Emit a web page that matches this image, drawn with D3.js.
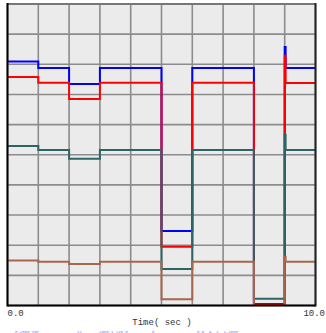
<!DOCTYPE html>
<html>
<head>
<meta charset="utf-8">
<script src="https://cdn.jsdelivr.net/npm/d3@7"></script>
<style>
  html, body { margin: 0; padding: 0; background: #ffffff; }
  svg { display: block; }
</style>
</head>
<body>
<div id="chart"></div>
<script>
// Sample times (sec) and the four traced channels
const times = [0, 1, 2, 3, 5, 6, 8, 9, 9.03, 10];
const blueVals  = [8.09, 7.88, 7.35, 7.88, 2.47, 7.88, 0.05, 8.57, 7.88, 7.88];
const redVals   = [7.58, 7.39, 6.85, 7.39, 1.95, 7.39, 0.03, 8.28, 7.38, 7.38];
const tealVals  = [5.29, 5.16, 4.87, 5.16, 1.21, 5.16, 0.22, 5.66, 5.16, 5.16];
const brownVals = [1.49, 1.45, 1.38, 1.45, 0.21, 1.45, -0.10, 1.62, 1.45, 1.45];

const xDomain = [0, 10];
const yDomain = [0, 10];
const xLabels = ["0.0", "10.0"];
const axisTitle = "Time( sec )";
const footer = [
  { text: "0.2000 V5e", x: 15 },
  { text: "11", x: 77 },
  { text: "2080-1 115.0", x: 99 },
  { text: "0", x: 152 },
  { text: "0.0  A  1  1.2000", x: 197 }
];

const W = 326, H = 333;
const plotL = 7.5, plotR = 315.5, plotT = 4, plotB = 305.5;

const svg = d3.select("#chart").append("svg")
  .attr("width", W).attr("height", H);

const x = d3.scaleLinear().domain(xDomain).range([plotL, plotR]);
const y = d3.scaleLinear().domain(yDomain).range([plotB, plotT]);

// plot background
svg.append("rect")
  .attr("x", plotL).attr("y", plotT)
  .attr("width", plotR - plotL).attr("height", plotB - plotT)
  .attr("fill", "#ebebeb");

// grid
const grid = svg.append("g").attr("stroke", "#8c8c8c").attr("stroke-width", 1.6);
grid.selectAll("line.v").data(x.ticks(10)).join("line")
  .attr("class", "v")
  .attr("x1", d => x(d)).attr("x2", d => x(d))
  .attr("y1", plotT).attr("y2", plotB);
grid.selectAll("line.h").data(y.ticks(10)).join("line")
  .attr("class", "h")
  .attr("x1", plotL).attr("x2", plotR)
  .attr("y1", d => y(d)).attr("y2", d => y(d));

// clip traces to the plot frame
svg.append("clipPath").attr("id", "plotClip")
  .append("rect")
  .attr("x", plotL).attr("y", plotT)
  .attr("width", plotR - plotL).attr("height", plotB - plotT);

const line = d3.line()
  .x(d => x(d[0]))
  .y(d => y(d[1]))
  .curve(d3.curveStepAfter);

const series = [
  { vals: blueVals, color: "#0000ff" },
  { vals: redVals, color: "#ff0000" },
  { vals: tealVals, color: "#2e6466" },
  { vals: brownVals, color: "#a8664e" }
];

const traces = svg.append("g").attr("clip-path", "url(#plotClip)");
series.forEach(s => {
  traces.append("path")
    .datum(times.map((t, i) => [t, s.vals[i]]))
    .attr("fill", "none")
    .attr("stroke", s.color)
    .attr("stroke-width", 2)
    .attr("d", line);
});

// frame
svg.append("line").attr("x1", plotL).attr("x2", plotR).attr("y1", plotT).attr("y2", plotT)
  .attr("stroke", "#777").attr("stroke-width", 2);
svg.append("line").attr("x1", plotL).attr("x2", plotL).attr("y1", plotT - 1).attr("y2", plotB + 1)
  .attr("stroke", "#000").attr("stroke-width", 2);
svg.append("line").attr("x1", plotR).attr("x2", plotR).attr("y1", plotT - 1).attr("y2", plotB + 1)
  .attr("stroke", "#222").attr("stroke-width", 2);
svg.append("line").attr("x1", plotL).attr("x2", plotR).attr("y1", plotB).attr("y2", plotB)
  .attr("stroke", "#000").attr("stroke-width", 2);

// axis labels
const mono = "'Liberation Mono', 'DejaVu Sans Mono', monospace";
svg.append("text").attr("x", x(xDomain[0])).attr("y", 316)
  .attr("font-family", mono).attr("font-size", 9).attr("fill", "#333")
  .text(xLabels[0]);
svg.append("text").attr("x", 325).attr("y", 316).attr("text-anchor", "end")
  .attr("font-family", mono).attr("font-size", 9).attr("fill", "#333")
  .text(xLabels[1]);
svg.append("text").attr("x", 162).attr("y", 325).attr("text-anchor", "middle")
  .attr("font-family", mono).attr("font-size", 9).attr("fill", "#333")
  .text(axisTitle);

// channel description line
svg.selectAll("text.foot").data(footer).join("text")
  .attr("class", "foot")
  .attr("x", d => d.x).attr("y", 332.5)
  .attr("font-family", mono).attr("font-size", 4).attr("fill", "#8080ff")
  .attr("xml:space", "preserve")
  .style("white-space", "pre")
  .text(d => d.text);
</script>
</body>
</html>
